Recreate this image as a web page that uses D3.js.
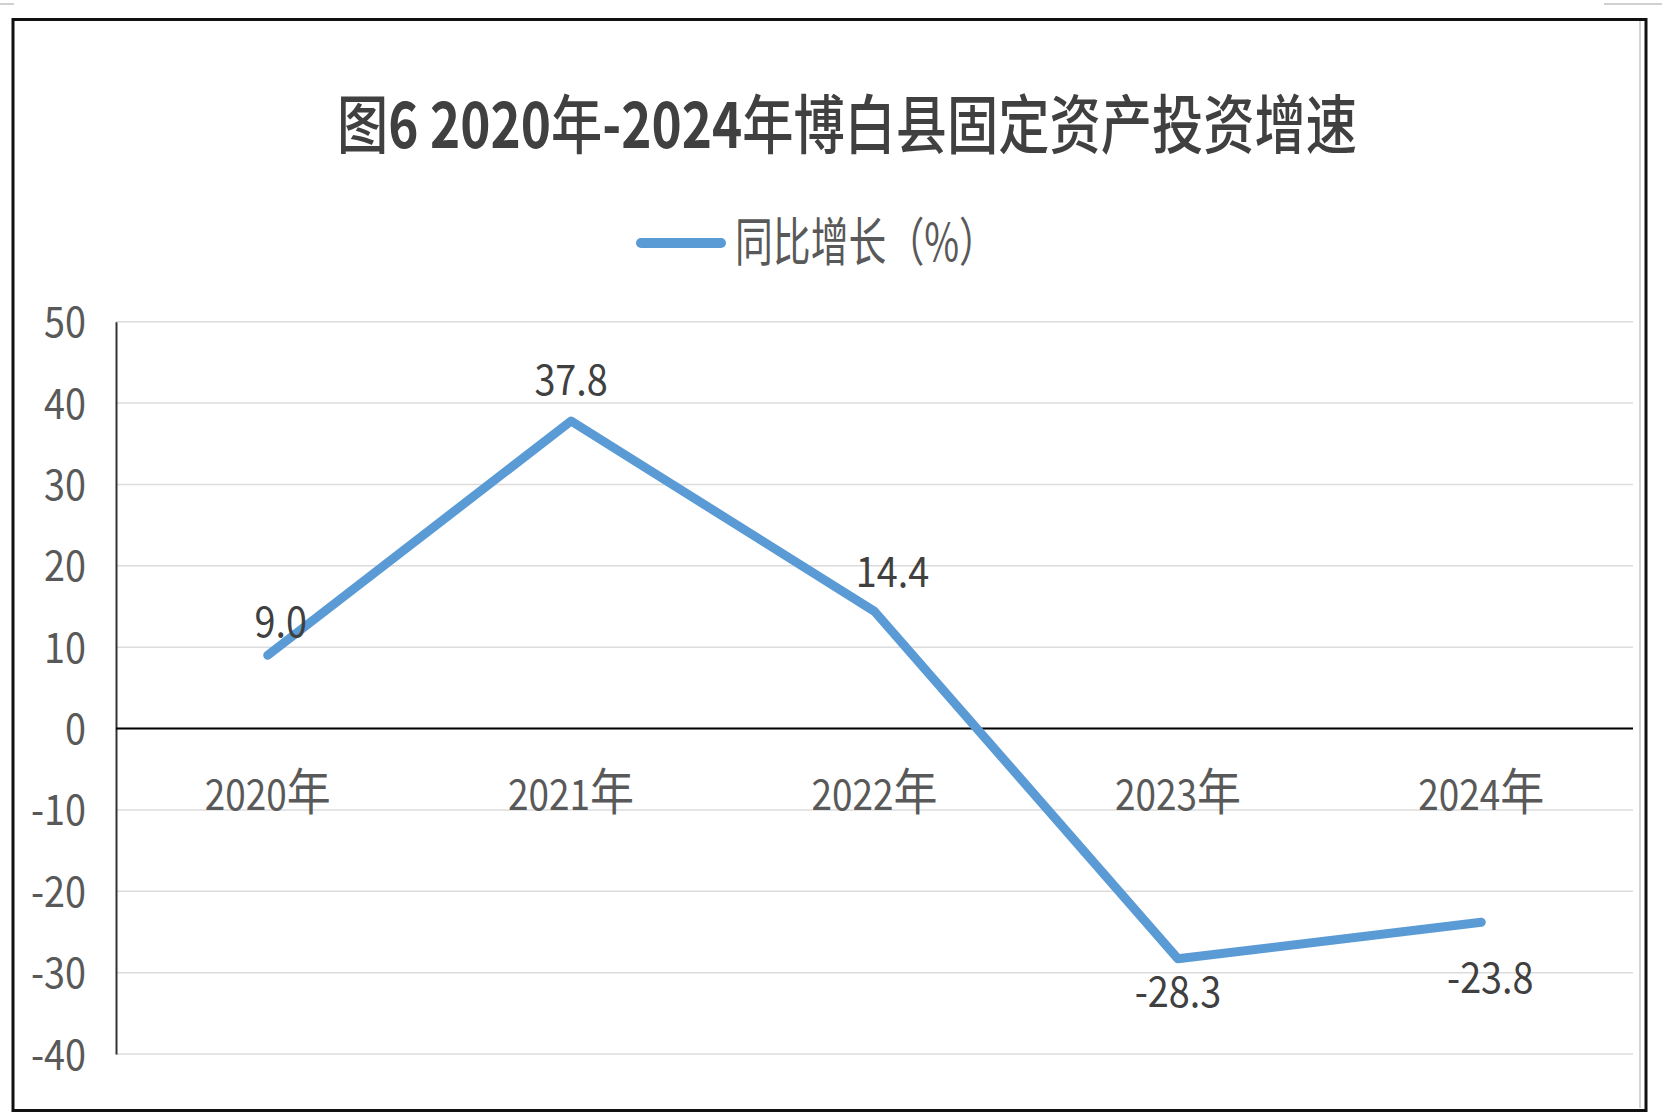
<!DOCTYPE html>
<html>
<head>
<meta charset="utf-8">
<script src="https://cdn.jsdelivr.net/npm/d3@7/dist/d3.min.js"></script>
<style>
  html, body { margin: 0; padding: 0; background: #fff; }
  svg { display: block; }
  text { font-family: "Noto Sans CJK SC", "Noto Sans", sans-serif; }
</style>
</head>
<body>
<div id="chart"></div>
<script>
// data
var years = ['2020年', '2021年', '2022年', '2023年', '2024年'];
var growth = [9.0, 37.8, 14.4, -28.3, -23.8];
var yTicks = [50, 40, 30, 20, 10, 0, -10, -20, -30, -40];
var title = '图6 2020年-2024年博白县固定资产投资增速';
var seriesName = '同比增长（%）';

// label nudges [dx, dy from point to baseline]
var labelNudge = [[13, -18], [0, -26], [18, -24], [0, 48], [9, 71]];

var W = 1662, H = 1119;
var plot = {left: 116, right: 1633, top: 321.7, bottom: 1054};

var fmt = function(d) {return d3.format('.1f')(d).replace('\u2212', '-');};

var svg = d3.select('#chart')
    .append('svg')
    .attr('width', W)
    .attr('height', H);

// lay several text runs side by side, squeezed to a total width
function squeezed(g, parts, cx, baseline, width) {
    var nodes = parts.map(function(p) {
        var t = g.append('text')
            .attr('x', 0)
            .attr('y', 0)
            .attr('font-size', p.size)
            .attr('font-weight', p.weight || 400)
            .attr('fill', p.fill)
            .text(p.text);
        return {sel: t, w: t.node().getComputedTextLength()};
    });
    var total = d3.sum(nodes, function(n) {return n.w;});
    var k = width / total;
    var xx = cx - width / 2;
    nodes.forEach(function(n) {
        n.sel.attr('transform', 'translate(' + xx + ',' + baseline + ') scale(' + k + ',1)');
        xx += n.w * k;
    });
}

// frame
svg.append('line')
    .attr('x1', 0).attr('x2', 14).attr('y1', 4).attr('y2', 4)
    .attr('stroke', '#d0d0d0').attr('stroke-width', 2);
svg.append('line')
    .attr('x1', 1604).attr('x2', 1662).attr('y1', 4).attr('y2', 4)
    .attr('stroke', '#d0d0d0').attr('stroke-width', 2);
svg.append('line')
    .attr('x1', 1640).attr('x2', 1640).attr('y1', 21).attr('y2', 1108)
    .attr('stroke', '#d4d4d4').attr('stroke-width', 2);
svg.append('rect')
    .attr('x', 13).attr('y', 19.5)
    .attr('width', 1633).attr('height', 1091)
    .attr('fill', 'none')
    .attr('stroke', '#111')
    .attr('stroke-width', 3);

var x = d3.scaleBand()
    .domain(years)
    .range([plot.left, plot.right]);

var y = d3.scaleLinear()
    .domain([-40, 50])
    .range([plot.bottom, plot.top]);

// gridlines
svg.append('g')
    .attr('class', 'grid')
    .selectAll('line')
    .data(yTicks)
    .enter()
    .append('line')
    .attr('x1', plot.left)
    .attr('x2', plot.right)
    .attr('y1', function(d) {return y(d);})
    .attr('y2', function(d) {return y(d);})
    .attr('stroke', '#dcdcdc')
    .attr('stroke-width', 1.5);

// y axis
var yAxis = svg.append('g')
    .attr('transform', 'translate(' + plot.left + ',0)')
    .call(d3.axisLeft(y).tickValues(yTicks).tickSize(0).tickPadding(30)
        .tickFormat(function(d) {return String(d);}));
yAxis.select('.domain')
    .attr('stroke', '#333')
    .attr('stroke-width', 2);
yAxis.selectAll('text')
    .attr('fill', '#595959')
    .attr('font-size', 42)
    .attr('dy', null)
    .attr('y', 15)
    .attr('transform', 'translate(-30,0) scale(0.9,1) translate(30,0)')
    .style('font-family', '"Noto Sans CJK SC", sans-serif');

// zero line
svg.append('line')
    .attr('x1', plot.left)
    .attr('x2', plot.right)
    .attr('y1', y(0))
    .attr('y2', y(0))
    .attr('stroke', '#000')
    .attr('stroke-width', 2);

// category labels
var catG = svg.append('g').attr('class', 'cats');
years.forEach(function(d) {
    squeezed(catG, [
        {text: d.slice(0, 4), size: 42, fill: '#595959'},
        {text: d.slice(4), size: 50, fill: '#595959'}
    ], x(d) + x.bandwidth() / 2, 810, 126);
});

// line
var line = d3.line()
    .x(function(d, i) {return x(years[i]) + x.bandwidth() / 2;})
    .y(function(d) {return y(d);});

svg.append('path')
    .datum(growth)
    .attr('d', line)
    .attr('fill', 'none')
    .attr('stroke', '#5b9bd5')
    .attr('stroke-width', 9)
    .attr('stroke-linejoin', 'round')
    .attr('stroke-linecap', 'round');

// data labels
svg.append('g')
    .selectAll('text')
    .data(growth)
    .enter()
    .append('text')
    .attr('text-anchor', 'middle')
    .attr('font-size', 42)
    .attr('fill', '#404040')
    .attr('transform', function(d, i) {
        var px = x(years[i]) + x.bandwidth() / 2 + labelNudge[i][0];
        var py = y(d) + labelNudge[i][1];
        return 'translate(' + px + ',' + py + ') scale(0.9,1)';
    })
    .text(fmt);

// title
var titleG = svg.append('g').attr('class', 'title');
squeezed(titleG, title.match(/[\x00-\x7F]+|[^\x00-\x7F]+/g).map(function(part) {
    return {
        text: part,
        size: 64,
        weight: /[\x00-\x7F]/.test(part) ? 700 : 500,
        fill: '#404040'
    };
}), 847, 148, 1020);

// legend
svg.append('line')
    .attr('x1', 641).attr('x2', 721)
    .attr('y1', 243).attr('y2', 243)
    .attr('stroke', '#5b9bd5')
    .attr('stroke-width', 10)
    .attr('stroke-linecap', 'round');
var legendG = svg.append('g').attr('class', 'legend');
squeezed(legendG, [{text: seriesName, size: 52, fill: '#595959'}], 735 + 131, 261, 262);
</script>
</body>
</html>
